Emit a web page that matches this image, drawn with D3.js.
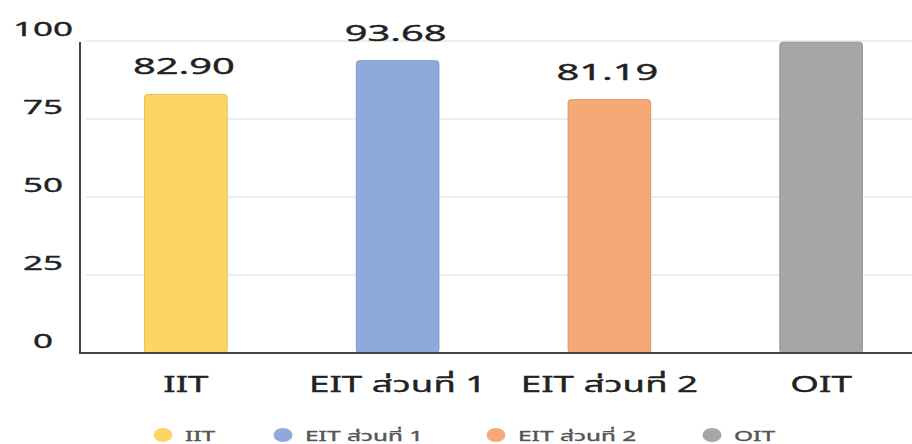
<!DOCTYPE html>
<html>
<head>
<meta charset="utf-8">
<script src="https://cdn.jsdelivr.net/npm/d3@7"></script>
<style>
  body { margin: 0; background: #fff; }
  svg text { font-family: "Noto Sans", "Noto Sans Thai", "Open Sans", sans-serif; font-weight: 400; stroke-width: 0.35px; }
</style>
</head>
<body>
<div id="chart"></div>
<script>
const categories = ["IIT", "EIT ส่วนที่ 1", "EIT ส่วนที่ 2", "OIT"];
const scores = [82.90, 93.68, 81.19, 99.6];
const scoreLabels = ["82.90", "93.68", "81.19", ""];
const barColors = ["#fcd565", "#8eaadc", "#f4a977", "#a6a6a6"];
const yTicks = [0, 25, 50, 75, 100];

const width = 912, height = 444;
const stretch = 1.75; // the reference text is drawn wide

const svg = d3.select("#chart").append("svg")
    .attr("width", width)
    .attr("height", height);

const x = d3.scaleBand()
    .domain(categories)
    .range([80, 927])
    .paddingInner(0.61)
    .paddingOuter(0.305);

const y = d3.scaleLinear()
    .domain([0, 100])
    .range([353, 41]);

// gridlines
svg.append("g")
    .selectAll("line")
    .data(yTicks.filter(d => d > 0))
    .enter()
    .append("line")
    .attr("x1", 86)
    .attr("x2", width)
    .attr("y1", d => y(d))
    .attr("y2", d => y(d))
    .attr("stroke", "#e8e8e8")
    .attr("stroke-width", 1.5);

// y tick labels
svg.append("g")
    .selectAll("text")
    .data(yTicks)
    .enter()
    .append("text")
    .attr("transform", d => `translate(43, ${y(d) - 5}) scale(${stretch}, 1)`)
    .attr("text-anchor", "middle")
    .style("font-size", "20px")
    .style("fill", "#222")
    .style("stroke", "#222")
    .text(d => d);

// bars
svg.append("g")
    .selectAll("rect")
    .data(categories)
    .enter()
    .append("rect")
    .attr("x", d => x(d))
    .attr("y", (d, i) => y(scores[i]))
    .attr("width", x.bandwidth())
    .attr("height", (d, i) => y(0) - y(scores[i]))
    .attr("rx", 3)
    .attr("fill", (d, i) => barColors[i])
    .attr("stroke", (d, i) => d3.color(barColors[i]).darker(0.3))
    .attr("stroke-width", 1);

// value labels
svg.append("g")
    .selectAll("text")
    .data(categories)
    .enter()
    .append("text")
    .attr("transform", (d, i) => `translate(${x(d) + x.bandwidth() / 2 - 2}, ${y(scores[i]) - 20}) scale(1.9, 1)`)
    .attr("text-anchor", "middle")
    .style("font-size", "21px")
    .style("fill", "#222")
    .style("stroke", "#222")
    .text((d, i) => scoreLabels[i]);

// axes lines
svg.append("line")
    .attr("x1", 80).attr("x2", 80)
    .attr("y1", y(100) + 1).attr("y2", y(0))
    .attr("stroke", "#444").attr("stroke-width", 2);
svg.append("line")
    .attr("x1", 79).attr("x2", width)
    .attr("y1", y(0)).attr("y2", y(0))
    .attr("stroke", "#444").attr("stroke-width", 2);

// category labels
svg.append("g")
    .selectAll("text")
    .data(categories)
    .enter()
    .append("text")
    .attr("transform", d => `translate(${x(d) + x.bandwidth() / 2}, 392) scale(${stretch}, 1)`)
    .attr("text-anchor", "middle")
    .style("font-size", "21px")
    .style("fill", "#222")
    .style("stroke", "#222")
    .text(d => d);

// legend
const legendX = [163, 283, 496, 712];
const legend = svg.append("g")
    .selectAll("g")
    .data(categories)
    .enter()
    .append("g")
    .attr("transform", (d, i) => `translate(${legendX[i]}, 435)`);

legend.append("ellipse")
    .attr("rx", 9.5)
    .attr("ry", 7)
    .attr("fill", (d, i) => barColors[i]);

legend.append("text")
    .attr("transform", `translate(22, 5.5) scale(${stretch}, 1)`)
    .style("font-size", "14px")
    .style("fill", "#555")
    .style("stroke", "#555")
    .text(d => d);
</script>
</body>
</html>
